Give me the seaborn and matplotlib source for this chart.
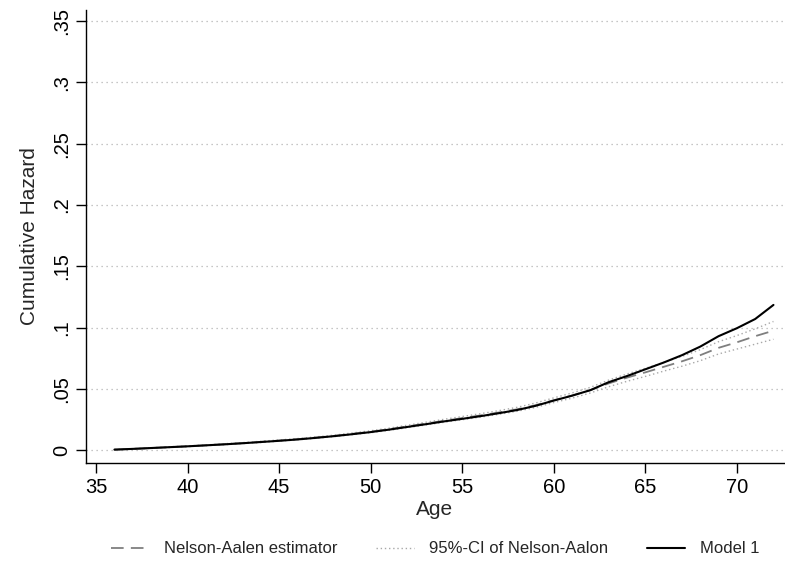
import numpy as np
import pandas as pd
import matplotlib
matplotlib.use("Agg")
import matplotlib.pyplot as plt
import seaborn as sns

# ages at which the curves are read
age = list(range(36, 73))

# Model 1 cumulative hazard
model1 = [0.0005, 0.0011, 0.0018, 0.0025, 0.0032, 0.0040, 0.0048, 0.0057, 0.0067, 0.0077,
          0.0088, 0.0101, 0.0115, 0.0131, 0.0148, 0.0168, 0.0190, 0.0212, 0.0235, 0.0256,
          0.0278, 0.0302, 0.0328, 0.0362, 0.0405, 0.0445, 0.0490, 0.0555, 0.0605, 0.0660,
          0.0715, 0.0775, 0.0845, 0.0930, 0.0995, 0.1070, 0.1185]

# Nelson-Aalen estimator
nelson = [0.0005, 0.0011, 0.0018, 0.0025, 0.0032, 0.0040, 0.0049, 0.0058, 0.0068, 0.0079,
          0.0090, 0.0103, 0.0117, 0.0134, 0.0151, 0.0171, 0.0194, 0.0217, 0.0240, 0.0262,
          0.0284, 0.0308, 0.0334, 0.0367, 0.0408, 0.0446, 0.0490, 0.0545, 0.0592, 0.0635,
          0.0680, 0.0725, 0.0775, 0.0835, 0.0880, 0.0930, 0.0975]

# 95% CI of Nelson-Aalen
ci_low = [0.0004, 0.0009, 0.0016, 0.0022, 0.0029, 0.0037, 0.0045, 0.0054, 0.0063, 0.0074,
          0.0085, 0.0097, 0.0111, 0.0127, 0.0143, 0.0162, 0.0184, 0.0206, 0.0228, 0.0249,
          0.0270, 0.0293, 0.0318, 0.0349, 0.0389, 0.0425, 0.0467, 0.0518, 0.0562, 0.0602,
          0.0645, 0.0685, 0.0730, 0.0785, 0.0825, 0.0865, 0.0905]
ci_high = [0.0006, 0.0013, 0.0020, 0.0028, 0.0035, 0.0043, 0.0053, 0.0062, 0.0073, 0.0084,
           0.0095, 0.0109, 0.0123, 0.0141, 0.0159, 0.0180, 0.0204, 0.0228, 0.0252, 0.0275,
           0.0298, 0.0323, 0.0350, 0.0385, 0.0427, 0.0467, 0.0513, 0.0572, 0.0622, 0.0668,
           0.0716, 0.0765, 0.0820, 0.0885, 0.0935, 0.0990, 0.1050]

ytick_vals = [0, 0.05, 0.1, 0.15, 0.2, 0.25, 0.3, 0.35]
ytick_labels = ["0", ".05", ".1", ".15", ".2", ".25", ".3", ".35"]
xtick_vals = [35, 40, 45, 50, 55, 60, 65, 70]

df = pd.DataFrame({"Age": age, "model1": model1, "nelson": nelson,
                   "ci_low": ci_low, "ci_high": ci_high})

sns.set_style("white")
plt.rcParams["font.family"] = ["Liberation Sans", "DejaVu Sans"]

fig = plt.figure(figsize=(7.85, 5.61), dpi=100)
ax = fig.add_axes([0.1096, 0.1747, 0.8890, 0.8075])

# horizontal dotted grid
for yv in ytick_vals:
    ax.axhline(yv, color="#b4b4b4", lw=0.9, ls=(0, (1, 3)), zorder=0)

sns.lineplot(data=df, x="Age", y="nelson", ax=ax, color="#7f7f7f", lw=1.3,
             label="Nelson-Aalen estimator", zorder=3)
ax.lines[-1].set_linestyle((0, (7, 4)))
sns.lineplot(data=df, x="Age", y="ci_low", ax=ax, color="#a8a8a8", lw=1.0,
             label="95%-CI of Nelson-Aalon", zorder=2)
ax.lines[-1].set_linestyle((0, (1, 2)))
sns.lineplot(data=df, x="Age", y="ci_high", ax=ax, color="#a8a8a8", lw=1.0, zorder=2)
ax.lines[-1].set_linestyle((0, (1, 2)))
sns.lineplot(data=df, x="Age", y="model1", ax=ax, color="black", lw=1.5,
             label="Model 1", zorder=4)

ax.set_xlim(34.45, 72.57)
ax.set_ylim(-0.0104, 0.359)
ax.set_xticks(xtick_vals)
ax.set_yticks(ytick_vals)
ax.set_yticklabels(ytick_labels, rotation=90, va="center")
ax.tick_params(axis="both", direction="out", length=7, width=1, colors="black",
               labelsize=14.5, pad=4)
ax.tick_params(axis="x", bottom=True)
ax.tick_params(axis="y", left=True)

for side in ["top", "right"]:
    ax.spines[side].set_visible(False)
for side in ["left", "bottom"]:
    ax.spines[side].set_color("black")
    ax.spines[side].set_linewidth(1)

ax.set_xlabel("Age", fontsize=15, labelpad=2)
ax.set_ylabel("Cumulative Hazard", fontsize=15, labelpad=9)

leg = ax.legend(loc="upper center", bbox_to_anchor=(0.5, -0.14), ncol=3, frameon=False,
                fontsize=12, handlelength=2.3, columnspacing=2.3, handletextpad=0.9)

fig.savefig("out.png", dpi=100)
